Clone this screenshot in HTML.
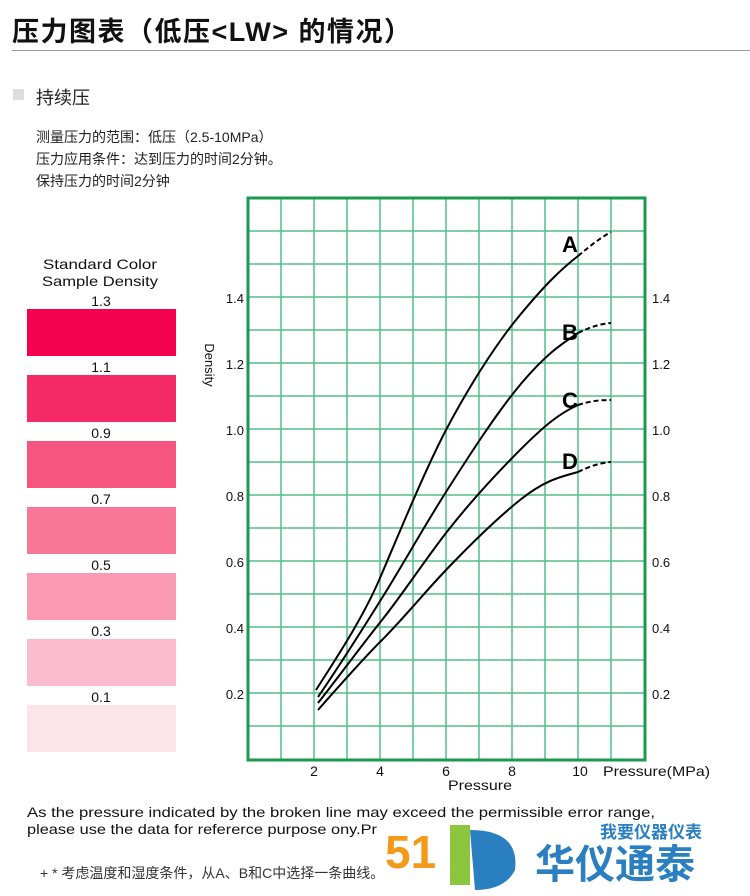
<!DOCTYPE html>
<html><head><meta charset="utf-8"><style>
body{margin:0;background:#fff;width:750px;height:896px;overflow:hidden;position:relative;font-family:"Liberation Sans","Noto Sans CJK SC",sans-serif}
.t{position:absolute;white-space:nowrap;color:#111}
</style></head><body>
<div class="t" style="left:12px;top:10px;font-size:27px;font-weight:bold;letter-spacing:1.5px">压力图表（低压&lt;LW&gt; 的情况）</div>
<div style="position:absolute;left:12px;top:50px;width:738px;height:1px;background:#999"></div>
<div style="position:absolute;left:13px;top:89px;width:11px;height:11px;background:#ddd"></div>
<div class="t" style="left:36px;top:84px;font-size:18px;color:#222">持续压</div>
<div class="t" style="left:36px;top:126px;font-size:14px;line-height:22px;color:#222">测量压力的范围：低压（2.5-10MPa）<br>压力应用条件：达到压力的时间2分钟。<br>保持压力的时间2分钟</div>
<svg style="position:absolute;left:0;top:0" width="750" height="896" font-family="Liberation Sans, sans-serif">
<g font-size="14" text-anchor="middle" fill="#111">
<text x="100" y="269" textLength="114" lengthAdjust="spacingAndGlyphs">Standard Color</text><text x="100" y="286" textLength="116" lengthAdjust="spacingAndGlyphs">Sample Density</text>
<text x="101" y="306">1.3</text><text x="101" y="372">1.1</text><text x="101" y="438">0.9</text><text x="101" y="504">0.7</text><text x="101" y="570">0.5</text><text x="101" y="636">0.3</text><text x="101" y="702">0.1</text>
</g>
<rect x="27" y="309" width="149" height="47" fill="#f3004f"/>
<rect x="27" y="375" width="149" height="47" fill="#f42a66"/>
<rect x="27" y="441" width="149" height="47" fill="#f6557f"/>
<rect x="27" y="507" width="149" height="47" fill="#f87798"/>
<rect x="27" y="573" width="149" height="47" fill="#f999b2"/>
<rect x="27" y="639" width="149" height="47" fill="#fabcce"/>
<rect x="27" y="705" width="149" height="47" fill="#fde3ea"/>
<g stroke="#52c088" stroke-width="1.5">
<path d="M281 198V760M314 198V760M347 198V760M380 198V760M413 198V760M446 198V760M479 198V760M512 198V760M545 198V760M578 198V760M611 198V760"/>
<path d="M248 231H645M248 264H645M248 297H645M248 330H645M248 363H645M248 396H645M248 429H645M248 462H645M248 495H645M248 528H645M248 561H645M248 594H645M248 627H645M248 660H645M248 693H645M248 726H645"/>
</g>
<rect x="248" y="198" width="397" height="562" fill="none" stroke="#1a9a4f" stroke-width="3"/>
<g fill="none" stroke="#000" stroke-width="2">
<path d="M316 690 C335 660,362 620,380 578 S425 470,446 430 S495 345,520 315 S560 270,578 256"/>
<path d="M318 697 C340 665,362 630,382 598 S425 525,446 492 S495 415,520 385 S560 345,578 333"/>
<path d="M318 703 C340 675,362 645,382 620 S425 560,446 533 S495 475,520 450 S560 413,578 405"/>
<path d="M318 710 C340 685,362 660,382 640 S425 592,446 570 S495 520,520 500 S560 477,578 472"/>
<g stroke-dasharray="5,3">
<path d="M578 256 C590 246,600 238,611 232"/><path d="M578 333 C590 327,600 324,611 323"/>
<path d="M578 405 C590 401,600 400,611 400"/><path d="M578 472 C590 466,600 463,611 462"/>
</g></g>
<g font-size="22" font-weight="bold" fill="#000" text-anchor="middle">
<text x="570" y="252">A</text><text x="570" y="340">B</text><text x="570" y="408">C</text><text x="570" y="469">D</text>
</g>
<g font-size="13" fill="#111" text-anchor="end">
<text x="244" y="303">1.4</text><text x="244" y="369">1.2</text><text x="244" y="435">1.0</text><text x="244" y="501">0.8</text><text x="244" y="567">0.6</text><text x="244" y="633">0.4</text><text x="244" y="699">0.2</text>
</g>
<g font-size="13" fill="#111">
<text x="652" y="303">1.4</text><text x="652" y="369">1.2</text><text x="652" y="435">1.0</text><text x="652" y="501">0.8</text><text x="652" y="567">0.6</text><text x="652" y="633">0.4</text><text x="652" y="699">0.2</text>
</g>
<text x="0" y="0" font-size="13" fill="#111" text-anchor="middle" transform="translate(205,365) rotate(90)">Density</text>
<g font-size="14" fill="#111" text-anchor="middle">
<text x="314" y="776">2</text><text x="380" y="776">4</text><text x="446" y="776">6</text><text x="512" y="776">8</text><text x="580" y="776">10</text>
<text x="480" y="790" textLength="64" lengthAdjust="spacingAndGlyphs">Pressure</text>
</g>
<text x="603" y="776" font-size="14" fill="#111" textLength="107" lengthAdjust="spacingAndGlyphs">Pressure(MPa)</text>
<g font-size="14" fill="#111">
<text x="27" y="817" textLength="628" lengthAdjust="spacingAndGlyphs">As the pressure indicated by the broken line may exceed the permissible error range,</text>
<text x="27" y="834" textLength="350" lengthAdjust="spacingAndGlyphs">please use the data for refererce purpose ony.Pr</text>
</g>
<text x="40" y="878" font-size="14" fill="#333" font-family="Liberation Sans, Noto Sans CJK SC, sans-serif">+ * 考虑温度和湿度条件，从A、B和C中选择一条曲线。</text>
<g font-family="Liberation Sans, Noto Sans CJK SC, sans-serif" font-weight="bold">
<text x="385" y="868" font-size="46" fill="#f39a1a">51</text>
<path d="M450 825 L470 825 L470 885 L450 885 Z" fill="#8cc63f"/>
<path d="M470 830 Q520 830,515 870 Q505 890,475 890 Z" fill="#2a7fc1"/>
<text x="600" y="838" font-size="17" fill="#2a7fc1">我要仪器仪表</text>
<text x="535" y="878" font-size="40" fill="#2a7fc1">华仪通泰</text>
</g>
</svg>
</body></html>
